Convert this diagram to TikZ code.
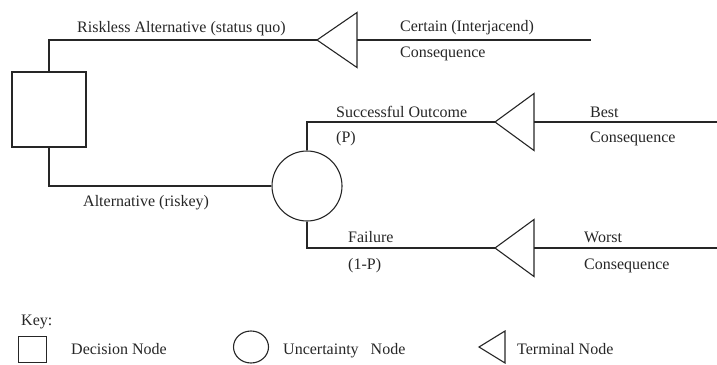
\documentclass[tikz,border=0pt]{standalone}
\usepackage{fontspec}
\setmainfont{Liberation Serif}
\usetikzlibrary{shapes.geometric}

\tikzset{
  edge/.style={line width=1.1pt, draw=black!85},
  decision/.style={edge, draw, rectangle, inner sep=0pt},
  chance/.style={edge, draw, circle, inner sep=0pt},
  keychance/.style={edge, draw, ellipse, inner sep=0pt},
  lbl/.style={anchor=base west, inner sep=0pt, text=black!85,
              font=\fontsize{16}{19}\selectfont},
  pics/terminal/.style 2 args={code={
    \draw[edge, line join=miter] (0,0) coordinate (-apex) -- (#1,#2) -- (#1,-#2) -- cycle;
    \coordinate (-base) at (#1,0);
  }}
}

\begin{document}
\begin{tikzpicture}[x=1pt, y=-1pt]
\useasboundingbox (0,0) rectangle (717,364);

% decision and uncertainty nodes
\node[decision, minimum width=74pt, minimum height=75pt] (dec) at (49,109.5) {};
\node[chance, minimum size=70pt] (unc) at (307,186) {};

% terminal nodes
\pic (tq) at (317,40) {terminal={40}{27.5}};
\pic (ts) at (495,122) {terminal={39}{28.5}};
\pic (tf) at (495,248) {terminal={39}{28.5}};

% consequence line ends
\coordinate (eq) at (591,40);
\coordinate (es) at (717,122);
\coordinate (ef) at (717,248);

% branches
\draw[edge] (dec.north) |- (tq-apex);
\draw[edge] (tq-base) -- (eq);
\draw[edge] (dec.south) |- (unc.west);
\draw[edge] (unc.north) |- (ts-apex);
\draw[edge] (ts-base) -- (es);
\draw[edge] (unc.south) |- (tf-apex);
\draw[edge] (tf-base) -- (ef);

% branch labels
\node[lbl] (lriskless) at (77,32) {Riskless Alternative (status quo)};
\node[lbl] (lcertain) at (400,31) {Certain (Interjacend)};
\node[lbl] (lcertainc) at (400,57) {Consequence};
\node[lbl] (lrisky) at (83,206) {Alternative (riskey)};
\node[lbl] (lsucc) at (336,117) {Successful Outcome};
\node[lbl] (lp) at (336,142) {(P)};
\node[lbl] (lbest) at (590,117) {Best};
\node[lbl] (lbestc) at (590,142) {Consequence};
\node[lbl] (lfail) at (348,242) {Failure};
\node[lbl] (lq) at (348,269) {(1-P)};
\node[lbl] (lworst) at (584,242) {Worst};
\node[lbl] (lworstc) at (584,269) {Consequence};

% key
\node[lbl] (lkey) at (21,325) {Key:};
\node[decision, minimum width=28pt, minimum height=26pt] (kdec) at (32.5,349.5) {};
\node[lbl] (lkdec) at (71,354) {Decision Node};
\node[keychance, minimum width=35pt, minimum height=32pt] (kunc) at (251,347) {};
\node[lbl] (lkunc) at (283,354) {Uncertainty\hspace{0.5em} Node};
\pic (kterm) at (479,347) {terminal={26}{16}};
\node[lbl] (lkterm) at (517,354) {Terminal Node};
\end{tikzpicture}
\end{document}
